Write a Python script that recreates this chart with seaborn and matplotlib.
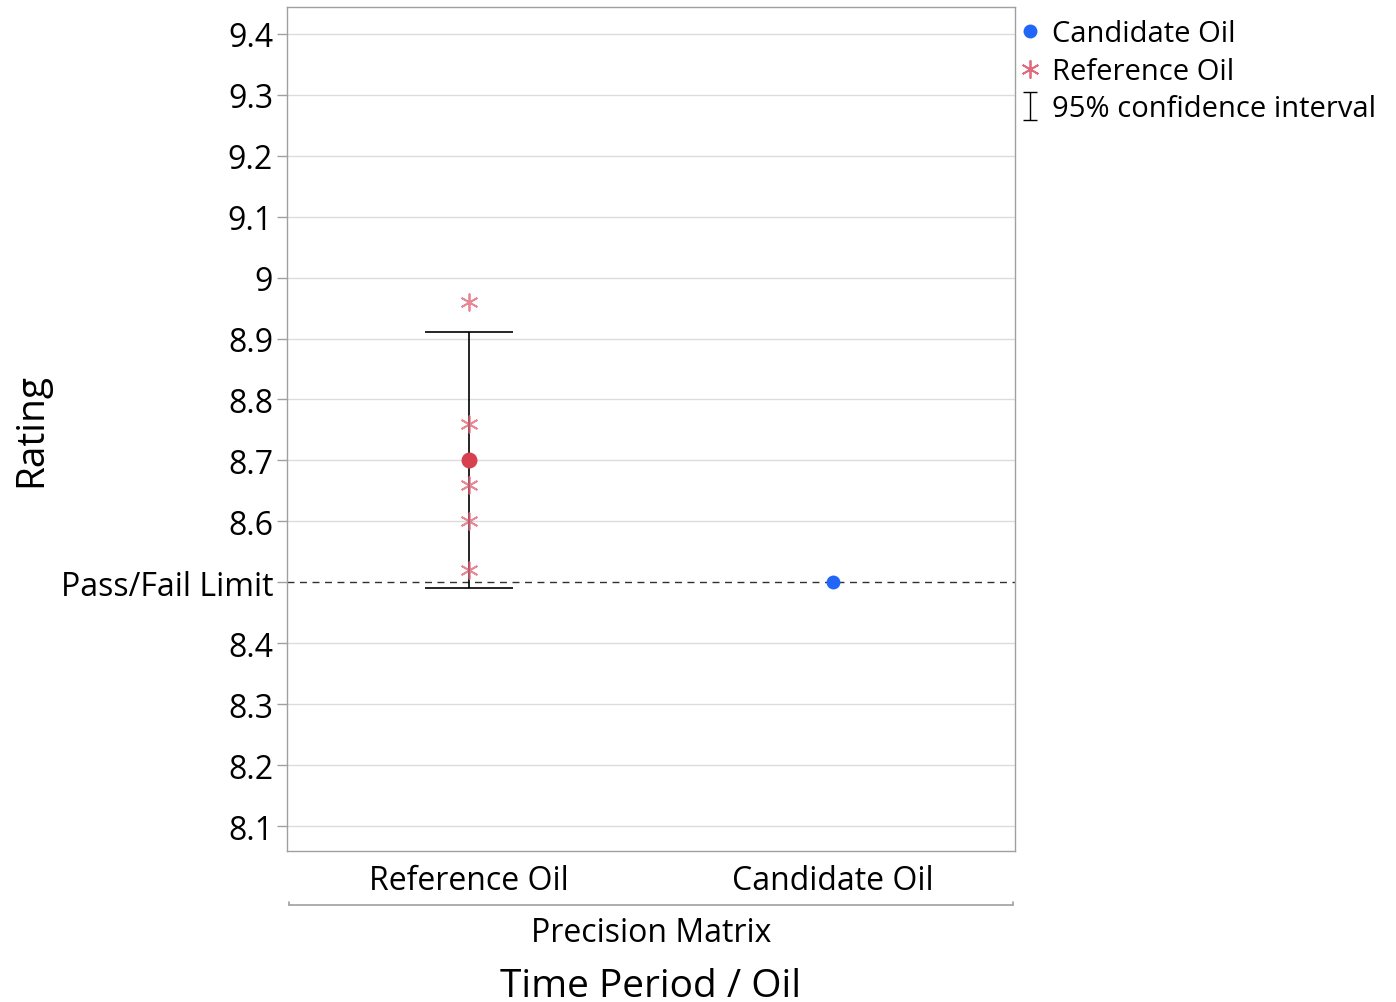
import numpy as np
import pandas as pd
import seaborn as sns
import matplotlib.pyplot as plt
from matplotlib.lines import Line2D
from matplotlib.path import Path

# ---- data ----
oils = ['Reference Oil', 'Candidate Oil']
ref_ratings = [8.96, 8.76, 8.66, 8.60, 8.52]
ref_mean = 8.70
ref_ci = [8.49, 8.91]
cand_rating = [8.50]
pass_fail = 8.5
y_ticks = [8.1, 8.2, 8.3, 8.4, 8.5, 8.6, 8.7, 8.8, 8.9, 9.0, 9.1, 9.2, 9.3, 9.4]
y_tick_labels = ['8.1', '8.2', '8.3', '8.4', 'Pass/Fail Limit', '8.6', '8.7',
                 '8.8', '8.9', '9', '9.1', '9.2', '9.3', '9.4']

ref_df = pd.DataFrame({'Oil': oils[0], 'Rating': ref_ratings})
cand_df = pd.DataFrame({'Oil': oils[1], 'Rating': cand_rating})

# ---- styling ----
sns.set_style('white')
plt.rcParams['font.family'] = ['Open Sans', 'DejaVu Sans']
plt.rcParams.update({'text.color': 'black', 'axes.labelcolor': 'black',
                     'xtick.color': 'black', 'ytick.color': 'black'})
star_color = '#E3697C'
mean_color = '#D6404F'
blue = '#2166F7'
grey = '#A0A0A0'

fig = plt.figure(figsize=(13.96, 10.03), dpi=100)
ax = fig.add_axes([287 / 1396, 1 - 852 / 1003, 728 / 1396, 844 / 1003])

# grid lines
for t in y_ticks:
    if t != pass_fail:
        ax.axhline(t, color='#DCDCDC', lw=1, zorder=0)
ax.axhline(pass_fail, color='#303030', lw=1, ls=(0, (5, 4)), zorder=1)

# CI and mean for reference oil
ax.errorbar([0], [ref_mean], yerr=[[ref_mean - ref_ci[0]], [ref_ci[1] - ref_mean]],
            fmt='none', ecolor='black', elinewidth=1.2, capsize=32, capthick=1.2, zorder=2)

asterisk = (6, 2, 0)
sns.stripplot(data=ref_df, x='Oil', y='Rating', order=oils, jitter=False,
              marker=asterisk, color=star_color, s=12, linewidth=1.3,
              edgecolor=star_color, alpha=0.8, ax=ax, zorder=3)
ax.scatter([0], [ref_mean], s=110, color=mean_color, zorder=4)
sns.stripplot(data=cand_df, x='Oil', y='Rating', order=oils, jitter=False,
              color=blue, s=10, ax=ax, zorder=4)

# axes
ax.set_xlim(-0.5, 1.5)
ax.set_ylim(8.059, 9.444)
ax.set_yticks(y_ticks)
ax.set_yticklabels(y_tick_labels)
ax.tick_params(axis='y', left=True, length=7, width=1, color=grey, labelsize=23, pad=3)
ax.tick_params(axis='y', labelcolor='black')
ax.tick_params(axis='x', bottom=False, labelsize=23, pad=6, labelcolor='black')
for s in ax.spines.values():
    s.set_color(grey)
    s.set_linewidth(1)
ax.set_xlabel('')
ax.set_ylabel('Rating', fontsize=28)
ax.yaxis.set_label_coords(-0.325, 0.5)

# secondary x label with bracket line
yb = -0.064
ax.plot([0.003, 0.997], [yb, yb], transform=ax.transAxes, color=grey, lw=1.2, clip_on=False)
for xe in [0.003, 0.997]:
    ax.plot([xe, xe], [yb, yb + 0.004], transform=ax.transAxes, color=grey, lw=1.2, clip_on=False)
ax.text(0.5, -0.077, 'Precision Matrix', transform=ax.transAxes, ha='center', va='top', fontsize=23)
ax.text(0.5, -0.137, 'Time Period / Oil', transform=ax.transAxes, ha='center', va='top', fontsize=28)

# legend
ibeam = Path([(-0.5, 1), (0.5, 1), (0, 1), (0, -1), (-0.5, -1), (0.5, -1)],
             [Path.MOVETO, Path.LINETO, Path.MOVETO, Path.LINETO, Path.MOVETO, Path.LINETO])
handles = [
    Line2D([], [], ls='none', marker='o', color=blue, markersize=9),
    Line2D([], [], ls='none', marker=asterisk, color=star_color, markersize=13, mew=1.3),
    Line2D([], [], ls='none', marker=ibeam, color='black', markerfacecolor='none',
           markersize=20, mew=1.0),
]
ax.legend(handles, ['Candidate Oil', 'Reference Oil', '95% confidence interval'],
          loc='upper left', bbox_to_anchor=(0.981, 1.01), frameon=False, fontsize=21,
          handlelength=0.6, handletextpad=0.45, labelspacing=0.3, borderaxespad=0.3)

fig.savefig('out.png', dpi=100)
